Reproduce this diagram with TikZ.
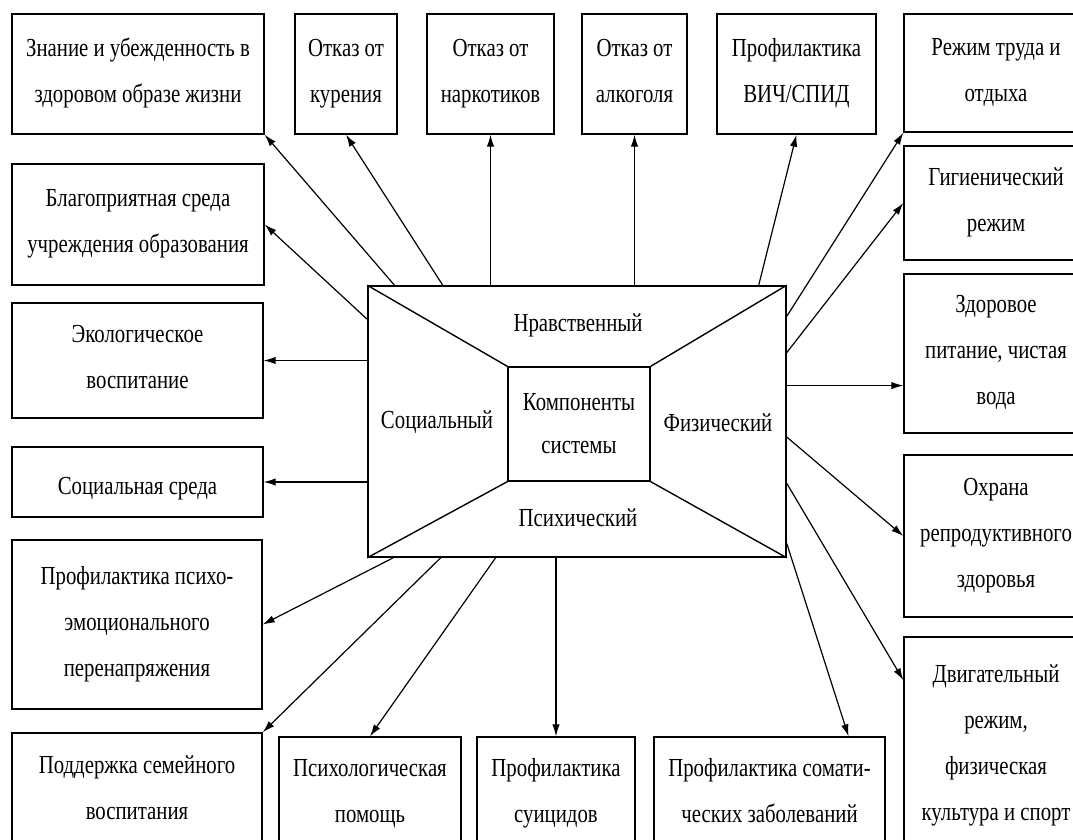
\documentclass[tikz,border=0pt]{standalone}
\usepackage{fontspec}
\setmainfont{Liberation Serif}[FakeStretch=0.8]
\usetikzlibrary{arrows.meta,calc}

\begin{document}
\begin{tikzpicture}[x=1pt,y=-1pt,
    box/.style={draw,line width=1.4pt,inner sep=0pt,align=center,
        font=\fontsize{26}{46}\selectfont,
        execute at begin node={\rule{0pt}{32pt}},
        execute at end node={\rule[-7pt]{0pt}{7pt}}},
    part/.style={inner sep=0pt,align=center,font=\fontsize{26}{43}\selectfont},
    link/.style={-{Latex[length=12pt,width=7.5pt]},line width=1.2pt}]
    \useasboundingbox (0,0) rectangle (1073,840);
    \clip (0,0) rectangle (1073,840);
    \node[box,minimum width=252,minimum height=120] (know) at (138,74) {Знание и убежденность в\\здоровом образе жизни};
    \node[box,minimum width=102,minimum height=120] (smok) at (346,74) {Отказ от\\курения};
    \node[box,minimum width=127,minimum height=120] (drug) at (490.5,74) {Отказ от\\наркотиков};
    \node[box,minimum width=105,minimum height=120] (alco) at (634.5,74) {Отказ от\\алкоголя};
    \node[box,minimum width=159,minimum height=120] (hiv) at (796.5,74) {Профилактика\\ВИЧ/СПИД};
    \node[box,minimum width=184,minimum height=118] (work) at (996,73) {Режим труда и\\отдыха};
    \node[box,minimum width=184,minimum height=114] (hyg) at (996,203) {Гигиенический\\режим};
    \node[box,minimum width=184,minimum height=159] (food) at (996,353.5) {Здоровое\\питание, чистая\\вода};
    \node[box,minimum width=184,minimum height=162] (health) at (996,536) {Охрана\\репродуктивного\\здоровья};
    \node[box,minimum width=184,minimum height=218] (motion) at (996,746) {Двигательный\\режим,\\физическая\\культура и спорт};
    \node[box,minimum width=252,minimum height=121] (bless) at (138,224.5) {Благоприятная среда\\учреждения образования};
    \node[box,minimum width=251,minimum height=115] (ecol) at (137.5,360.5) {Экологическое\\воспитание};
    \node[box,minimum width=251,minimum height=70] (soc) at (137.5,482) {Социальная среда};
    \node[box,minimum width=250,minimum height=169] (psycho) at (137,624.5) {Профилактика психо-\\эмоционального\\перенапряжения};
    \node[box,minimum width=250,minimum height=116] (family) at (137,791) {Поддержка семейного\\воспитания};
    \node[box,minimum width=182,minimum height=114] (psyhelp) at (370,794) {Психологическая\\помощь};
    \node[box,minimum width=158,minimum height=114] (suic) at (556,794) {Профилактика\\суицидов};
    \node[box,minimum width=231,minimum height=114] (soma) at (769.5,794) {Профилактика сомати-\\ческих заболеваний};
    \node[draw,line width=1.6pt,minimum width=418,minimum height=271] (sys) at (577,421.5) {};
    \node[part,draw,line width=1.3pt,minimum width=142,minimum height=114] (core) at (579,424) {Компоненты\\системы};
    \node[part] (moral) at (578,325) {Нравственный};
    \node[part] (social) at (437,422) {Социальный};
    \node[part] (phys) at (718,423) {Физический};
    \node[part] (mind) at (578,518) {Психический};
    \draw[line width=1.4pt] (sys.north west) -- (core.north west) (sys.north east) -- (core.north east)
        (sys.south west) -- (core.south west) (sys.south east) -- (core.south east);
    \coordinate (foodin) at ($(food.north west)!.7!(food.south west)$);
    \draw[link] ($(sys.north west)!.065!(sys.north east)$) -- (know.south east);
    \draw[link] ($(sys.north west)!.18!(sys.north east)$) -- (smok.south);
    \draw[link] (sys.north -| drug.south) -- (drug.south);
    \draw[link] (sys.north -| alco.south) -- (alco.south);
    \draw[link] ($(sys.north west)!.933!(sys.north east)$) -- (hiv.south);
    \draw[link] ($(sys.north east)!.114!(sys.south east)$) -- (work.south west);
    \draw[link] ($(sys.north east)!.247!(sys.south east)$) -- (hyg.west);
    \draw[link] (sys.east |- foodin) -- (foodin);
    \draw[link] ($(sys.north east)!.557!(sys.south east)$) -- (health.west);
    \draw[link] ($(sys.north east)!.727!(sys.south east)$) -- ($(motion.north west)!.2!(motion.south west)$);
    \draw[link] ($(sys.north east)!.948!(sys.south east)$) -- ($(soma.north west)!.84!(soma.north east)$);
    \draw[link] (sys.south -| suic.north) -- (suic.north);
    \draw[link] ($(sys.south west)!.306!(sys.south east)$) -- (psyhelp.north);
    \draw[link] ($(sys.south west)!.175!(sys.south east)$) -- (family.north east);
    \draw[link] ($(sys.south west)!.062!(sys.south east)$) -- (psycho.east);
    \draw[link] (sys.west |- soc.east) -- (soc.east);
    \draw[link] (sys.west |- ecol.east) -- (ecol.east);
    \draw[link] ($(sys.north west)!.125!(sys.south west)$) -- (bless.east);
\end{tikzpicture}
\end{document}
